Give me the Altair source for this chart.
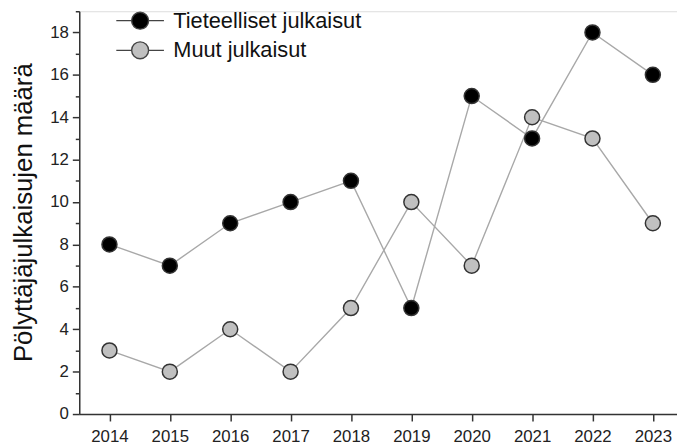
import altair as alt
import pandas as pd

years = [2014, 2015, 2016, 2017, 2018, 2019, 2020, 2021, 2022, 2023]
tieteelliset = [8, 7, 9, 10, 11, 5, 15, 13, 18, 16]
muut = [3, 2, 4, 2, 5, 10, 7, 14, 13, 9]
series_names = ["Tieteelliset julkaisut", "Muut julkaisut"]
y_title = "Pölyttäjäjulkaisujen määrä"

rows = []
for name, vals in zip(series_names, [tieteelliset, muut]):
    for yr, v in zip(years, vals):
        rows.append({"vuosi": yr, "maara": v, "sarja": name})
df = pd.DataFrame(rows)

FONT = "Liberation Sans"

x_enc = alt.X(
    "vuosi:Q",
    scale=alt.Scale(domain=[2013.5, 2023.4], nice=False, zero=False),
    axis=alt.Axis(
        values=years, format="d", title=None, grid=False,
        tickSize=7, labelPadding=8, labelFontSize=17, labelFont=FONT,
        labelColor="#222", domainColor="#333", tickColor="#333",
        domainWidth=1.5, tickWidth=1.5,
    ),
)
y_enc = alt.Y(
    "maara:Q",
    scale=alt.Scale(domain=[0, 19], nice=False),
    axis=alt.Axis(
        values=list(range(0, 20)),
        labelExpr="datum.value % 2 == 0 ? datum.label : ''",
        tickSize={"condition": {"test": "datum.value % 2 == 0", "value": 7}, "value": 4},
        title=y_title, titleFont=FONT, titleFontSize=26, titleFontWeight="normal",
        titleColor="#111", titleAngle=270, titleAlign="center", titleBaseline="middle",
        titleX=-56, titleY=203,
        grid=False, labelPadding=4, labelFontSize=17, labelFont=FONT,
        labelColor="#222", domainColor="#333", tickColor="#333",
        domainWidth=1.5, tickWidth=1.5,
    ),
)

lines = alt.Chart(df).mark_line(color="#a8a8a8", strokeWidth=1.4).encode(
    x=x_enc, y=y_enc, detail="sarja:N"
)

# custom legend glyph: short line with a circle in the middle
legend_path = ("M-1.66,0H-0.59M0.59,0H1.66M0.59,0"
               "A0.59,0.59 0 1 1 -0.59,0A0.59,0.59 0 1 1 0.59,0Z")

points = alt.Chart(df).mark_point(
    filled=True, size=230, shape="circle", stroke="#333", strokeWidth=1.5, opacity=1
).encode(
    x=x_enc, y=y_enc,
    fill=alt.Fill(
        "sarja:N",
        scale=alt.Scale(domain=series_names, range=["#000000", "#c0c0c0"]),
        legend=alt.Legend(
            title=None, orient="none", legendX=46, legendY=-6,
            symbolType=legend_path, symbolSize=841, symbolStrokeColor="#444",
            symbolStrokeWidth=1.4, symbolOpacity=1,
            labelFont=FONT, labelFontSize=22, labelColor="#111", labelLimit=500,
            labelOffset=18, rowPadding=3, padding=0,
        ),
    ),
)

chart = alt.layer(lines, points).properties(
    width=604, height=407,
    autosize=alt.AutoSizeParams(type="none"),
    padding={"left": 72, "top": 1, "right": 0, "bottom": 30},
).configure_view(stroke=None).configure(background="white")

chart.save("out.html", embed_options={"renderer": "svg", "actions": False})
